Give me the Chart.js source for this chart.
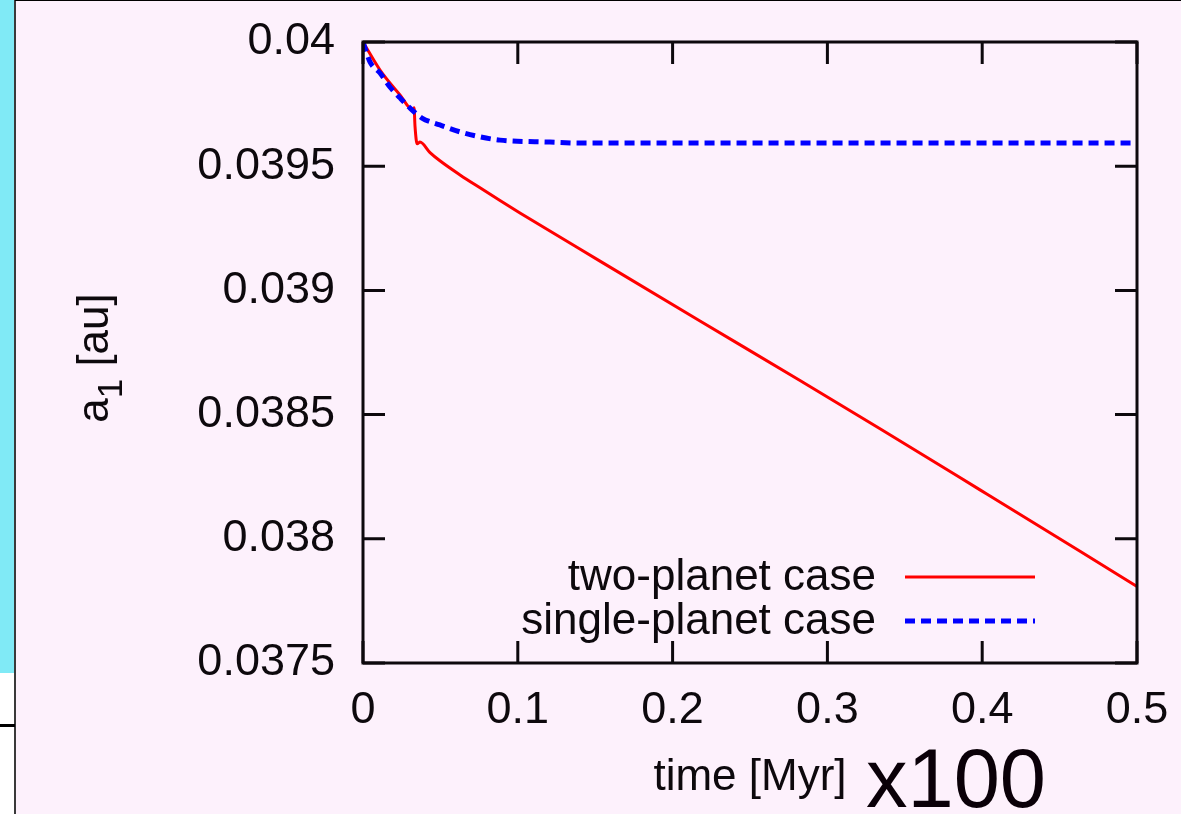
<!DOCTYPE html>
<html>
<head>
<meta charset="utf-8">
<title>a1 evolution</title>
<script src="https://cdn.jsdelivr.net/npm/chart.js@4.4.1/dist/chart.umd.min.js"></script>
<style>
  html, body { margin: 0; padding: 0; background: #fdf1fc; overflow: hidden; }
  #wrap { position: relative; width: 1181px; height: 814px; background: #fdf1fc; }
  #chart { position: absolute; left: 0; top: 0; }
  .strip { position: absolute; left: 0; top: 0; width: 14px; height: 673px; background: #80eaf6; }
  .strip-low { position: absolute; left: 0; top: 673px; width: 14px; height: 141px; background: #ffffff; }
  .rule-v { position: absolute; left: 14px; top: 0; width: 2px; height: 814px; background: #3a3a3a; }
  .rule-h { position: absolute; left: 0; top: 724px; width: 15px; height: 3px; background: #000; }
  .rule-top { position: absolute; left: 15px; top: 0; width: 1166px; height: 1px; background: #000; }
  .factor { position: absolute; left: 866px; top: 737px; font: 83px/84px 'Liberation Sans', Arial, sans-serif; color: #0a0008; white-space: nowrap; }
</style>
</head>
<body>
<div id="wrap">
  <div class="strip"></div>
  <div class="strip-low"></div>
  <div class="rule-v"></div>
  <div class="rule-h"></div>
  <div class="rule-top"></div>
  <canvas id="chart" width="1181" height="814"></canvas>
  <div class="factor">x100</div>
</div>
<script>
// time [Myr] and semi-major axis of the inner planet [au]
const twoPlanetTime = [0, 0.011, 0.0239, 0.0323, 0.0330, 0.0336, 0.0350, 0.0368, 0.0433, 0.0497, 0.0627,
  0.0756, 0.0885, 0.1014, 0.1531, 0.2177, 0.2823, 0.334, 0.3986, 0.4632, 0.5];
const twoPlanetA = [0.04, 0.039887, 0.039787, 0.039726, 0.039735, 0.039660, 0.039590, 0.039597, 0.039555,
  0.039522, 0.039465, 0.039413, 0.039362, 0.039312, 0.039118, 0.038877, 0.038637, 0.038443,
  0.038197, 0.037950, 0.037808];

const singlePlanetTime = [0, 0.0045, 0.011, 0.0174, 0.0239, 0.0304, 0.0381, 0.0497, 0.0627, 0.0756,
  0.0885, 0.1208, 0.14, 0.5];
const singlePlanetA = [0.04, 0.03992, 0.039875, 0.039819, 0.039775, 0.039734, 0.039694, 0.039666,
  0.039638, 0.039618, 0.039605, 0.039597, 0.039593, 0.039593];

const xTickValues = [0, 0.1, 0.2, 0.3, 0.4, 0.5];
const xTickLabels = ['0', '0.1', '0.2', '0.3', '0.4', '0.5'];
const yTickValues = [0.0375, 0.038, 0.0385, 0.039, 0.0395, 0.04];
const yTickLabels = ['0.0375', '0.038', '0.0385', '0.039', '0.0395', '0.04'];

const seriesNames = ['two-planet case', 'single-planet case'];

const FONT = "'Liberation Sans', Arial, Helvetica, sans-serif";
const INK = '#0d090d';
const TICK_LEN = 22;

const toPoints = (xs, ys) => xs.map((t, i) => ({ x: t, y: ys[i] }));

// gnuplot-style frame: closed box, inward ticks on all four sides,
// legend at the lower right with the sample line after the label
const gnuplotFrame = {
  id: 'gnuplotFrame',
  afterDatasetsDraw(chart) {
    const { ctx, chartArea: a, scales } = chart;
    const xs = scales.x, ys = scales.y;
    ctx.save();
    ctx.strokeStyle = INK;
    ctx.lineWidth = 3;
    ctx.lineCap = 'butt';
    ctx.beginPath();
    xs.ticks.forEach(t => {
      const px = xs.getPixelForValue(t.value);
      ctx.moveTo(px, a.bottom); ctx.lineTo(px, a.bottom - TICK_LEN);
      ctx.moveTo(px, a.top); ctx.lineTo(px, a.top + TICK_LEN);
    });
    ys.ticks.forEach(t => {
      const py = ys.getPixelForValue(t.value);
      ctx.moveTo(a.left, py); ctx.lineTo(a.left + TICK_LEN, py);
      ctx.moveTo(a.right, py); ctx.lineTo(a.right - TICK_LEN, py);
    });
    ctx.stroke();
    ctx.strokeRect(a.left, a.top, a.right - a.left, a.bottom - a.top);

    // legend
    ctx.font = '44px ' + FONT;
    ctx.fillStyle = INK;
    ctx.textAlign = 'right';
    ctx.textBaseline = 'alphabetic';
    chart.data.datasets.forEach((ds, i) => {
      const rowY = a.bottom - 86 + i * 44;
      ctx.fillText(ds.label, a.right - 261, rowY + 13);
      ctx.save();
      ctx.strokeStyle = ds.borderColor;
      ctx.lineWidth = ds.borderWidth;
      ctx.setLineDash(ds.borderDash || []);
      ctx.beginPath();
      ctx.moveTo(a.right - 232, rowY);
      ctx.lineTo(a.right - 102, rowY);
      ctx.stroke();
      ctx.restore();
    });

    // y-axis title with subscript: a_1 [au]
    const big = '44px ' + FONT, small = '35px ' + FONT;
    ctx.font = big;
    const wA = ctx.measureText('a').width;
    const wRest = ctx.measureText(' [au]').width;
    ctx.font = small;
    const wSub = ctx.measureText('1').width;
    const total = wA + wSub + wRest;
    ctx.translate(108, 358);
    ctx.rotate(-Math.PI / 2);
    ctx.textAlign = 'left';
    ctx.fillStyle = INK;
    let cx = -total / 2;
    ctx.font = big; ctx.fillText('a', cx, 0); cx += wA;
    ctx.font = small; ctx.fillText('1', cx, 14); cx += wSub;
    ctx.font = big; ctx.fillText(' [au]', cx, 0);
    ctx.restore();
  }
};

new Chart(document.getElementById('chart'), {
  type: 'line',
  data: {
    datasets: [
      {
        label: seriesNames[0],
        data: toPoints(twoPlanetTime, twoPlanetA),
        borderColor: '#ff0000',
        borderWidth: 3,
        pointRadius: 0,
        cubicInterpolationMode: 'monotone',
        order: 1
      },
      {
        label: seriesNames[1],
        data: toPoints(singlePlanetTime, singlePlanetA),
        borderColor: '#0000ff',
        borderWidth: 5,
        borderDash: [10, 6],
        pointRadius: 0,
        cubicInterpolationMode: 'monotone',
        order: 0
      }
    ]
  },
  options: {
    responsive: false,
    animation: false,
    devicePixelRatio: 1,
    layout: { padding: { left: 0, right: 44, top: 42, bottom: 0 } },
    plugins: { legend: { display: false }, tooltip: { enabled: false } },
    scales: {
      x: {
        type: 'linear',
        min: 0,
        max: 0.5,
        grid: { display: false, drawTicks: false },
        border: { display: false },
        afterBuildTicks: s => { s.ticks = xTickValues.map(v => ({ value: v })); },
        ticks: {
          autoSkip: false,
          maxRotation: 0,
          padding: 21,
          color: INK,
          font: { family: FONT, size: 45, lineHeight: 1.2 },
          callback: (v, i) => xTickLabels[i]
        },
        title: {
          display: true,
          text: 'time [Myr]',
          color: INK,
          font: { family: FONT, size: 44, lineHeight: 1 },
          padding: { top: 0, bottom: 14 }
        },
        afterFit: s => { s.height = 151; s.paddingLeft = 0; s.paddingRight = 0; }
      },
      y: {
        type: 'linear',
        min: 0.0375,
        max: 0.04,
        grid: { display: false, drawTicks: false },
        border: { display: false },
        afterBuildTicks: s => { s.ticks = yTickValues.map(v => ({ value: v })); },
        ticks: {
          autoSkip: false,
          padding: 28,
          color: INK,
          font: { family: FONT, size: 45, lineHeight: 1.2 },
          callback: (v, i) => yTickLabels[i]
        },
        afterFit: s => { s.width = 363; s.paddingTop = 0; s.paddingBottom = 0; }
      }
    }
  },
  plugins: [gnuplotFrame]
});
</script>
</body>
</html>
